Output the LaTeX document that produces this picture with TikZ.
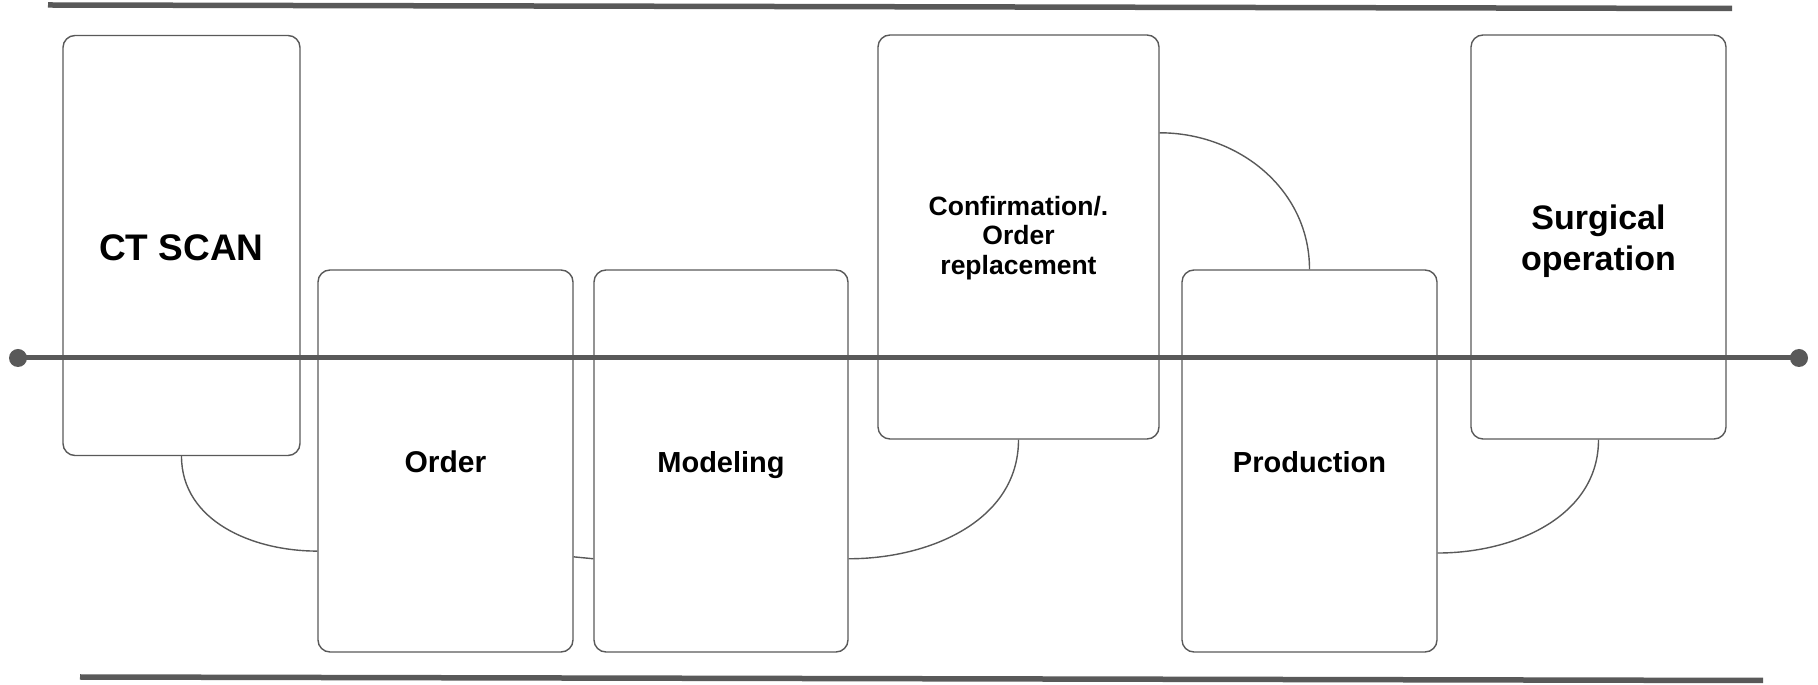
\documentclass[tikz,border=0pt]{standalone}
\usepackage{fontspec}
\setmainfont{Liberation Sans}
\usepackage{xcolor}
\usetikzlibrary{calc}
\definecolor{linegray}{RGB}{89,89,89}

\begin{document}
\begin{tikzpicture}[x=1pt, y=1pt,
  stage/.style = {draw=linegray,
                  line width=1.4pt,
                  rounded corners=12pt,
                  align=center,
                  inner sep=0pt,
                  text depth=0pt},
  link/.style = {draw=linegray, line width=1.4pt},
  rail/.style = {draw=linegray, line width=5.5pt}]
  \useasboundingbox (0,0) rectangle (1818,685);

  \draw[rail] (48,680) -- (1732,676.5);
  \draw[rail] (80,8) -- (1763,4.5);

  \node (ct) [stage, minimum width=237pt, minimum height=420pt, text height=30.6pt, font=\bfseries\fontsize{37}{44}\selectfont] at (181.5,439.5) {CT SCAN};
  \node (order) [stage, minimum width=255pt, minimum height=382pt, text height=24pt, font=\bfseries\fontsize{30}{36}\selectfont] at (445.5,224) {Order};
  \node (model) [stage, minimum width=254pt, minimum height=382pt, text height=24pt, font=\bfseries\fontsize{29}{35}\selectfont] at (721,224) {Modeling};
  \node (confirm) [stage, minimum width=281pt, minimum height=404pt, text height=74.6pt, font=\bfseries\fontsize{26.5}{29.3}\selectfont] at (1018.5,448) {Confirmation/.\\Order\\replacement};
  \node (prod) [stage, minimum width=255pt, minimum height=382pt, text height=24pt, font=\bfseries\fontsize{29}{35}\selectfont] at (1309.5,224) {Production};
  \node (surgery) [stage, minimum width=255pt, minimum height=404pt, text height=67.4pt, font=\bfseries\fontsize{34}{41.3}\selectfont] at (1598.5,448) {Surgical\\operation};

  \draw[link] (ct.south) to[out=-90, in=180] ($(order.north west)!0.735!(order.south west)$);
  \draw[link] ($(order.north east)!0.75!(order.south east)$) -- ($(model.north west)!0.755!(model.south west)$);
  \draw[link] ($(model.north east)!0.755!(model.south east)$) to[out=0, in=-90] (confirm.south);
  \draw[link] ($(confirm.north east)!0.243!(confirm.south east)$) to[out=0, in=90] (prod.north);
  \draw[link] (surgery.south) to[out=-90, in=0] ($(prod.north east)!0.74!(prod.south east)$);

  \coordinate (start) at (18,327);
  \coordinate (end) at (1799,327);
  \draw[rail, line width=5pt] (start) -- (end);
  \fill[linegray] (start) circle (9pt) (end) circle (9pt);
\end{tikzpicture}
\end{document}
